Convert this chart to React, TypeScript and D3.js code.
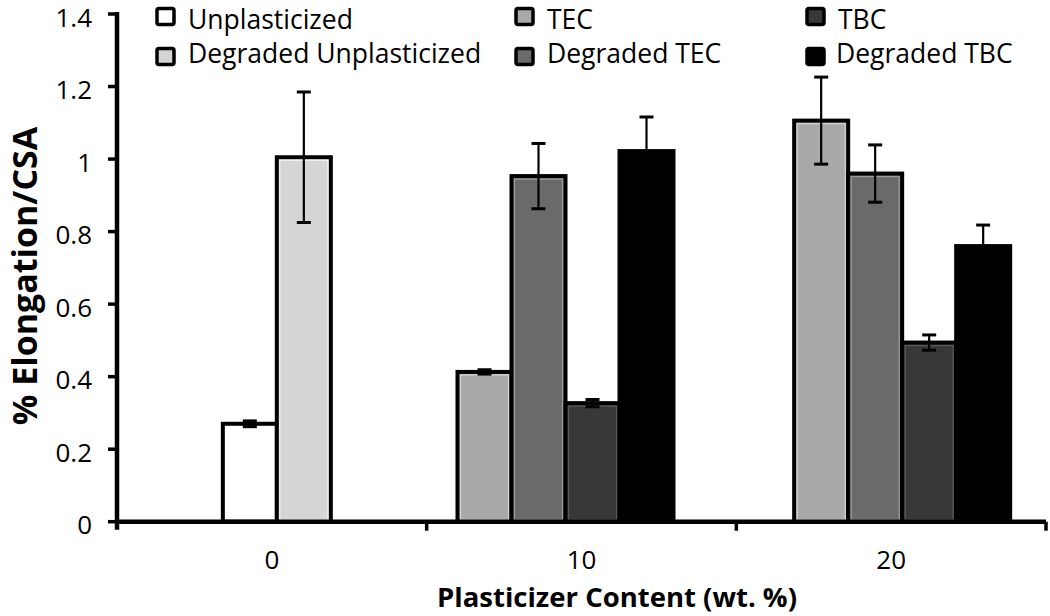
import React from "react";
import * as d3 from "d3";

// ---- data ----
const categories = ["0", "10", "20"];
const seriesNames = [
  "Unplasticized",
  "Degraded Unplasticized",
  "TEC",
  "Degraded TEC",
  "TBC",
  "Degraded TBC",
];
const unplasticized = [0.27, null, null];
const degradedUnplasticized = [1.005, null, null];
const tec = [null, 0.413, 1.106];
const degradedTec = [null, 0.953, 0.96];
const tbc = [null, 0.327, 0.494];
const degradedTbc = [null, 1.022, 0.76];

const errUnplasticized = [0.008, null, null];
const errDegradedUnplasticized = [0.18, null, null];
const errTec = [null, 0.006, 0.12];
const errDegradedTec = [null, 0.09, 0.079];
const errTbc = [null, 0.01, 0.021];
const errDegradedTbc = [null, 0.094, 0.058];

const yTicks = [0, 0.2, 0.4, 0.6, 0.8, 1, 1.2, 1.4];

// ---- styles ----
const fills = ["#ffffff", "#d5d5d5", "#a9a9a9", "#6a6a6a", "#383838", "#000000"];
const highlights = [null, "#f2f2f2", "#d4d4d4", "#9c9c9c", "#5a5a5a", null];

const seriesValues = [unplasticized, degradedUnplasticized, tec, degradedTec, tbc, degradedTbc];
const seriesErrors = [
  errUnplasticized,
  errDegradedUnplasticized,
  errTec,
  errDegradedTec,
  errTbc,
  errDegradedTbc,
];

const W = 1050;
const H = 616;
const plot = { left: 117, right: 1046, top: 14, bottom: 521.7 };
const slotW = 54;
const groupShift = [5, -16, 11];
const FONT = "'Open Sans', 'Liberation Sans', sans-serif";

export default function App() {
  const x = d3.scaleBand<string>().domain(categories).range([plot.left, plot.right]).padding(0);
  const y = d3.scaleLinear().domain([0, 1.4]).range([plot.bottom, plot.top]);

  const bars: any[] = [];
  categories.forEach((cat, ci) => {
    const present = seriesNames
      .map((s, si) => si)
      .filter((si) => seriesValues[si][ci] != null);
    const inner = d3
      .scaleBand<number>()
      .domain(present)
      .range([-(present.length * slotW) / 2, (present.length * slotW) / 2]);
    present.forEach((si) => {
      const cx = (x(cat) as number) + x.bandwidth() / 2 + groupShift[ci];
      bars.push({
        si,
        ci,
        x0: cx + (inner(si) as number),
        w: inner.bandwidth(),
        v: seriesValues[si][ci] as number,
        e: seriesErrors[si][ci] as number,
      });
    });
  });

  const legendPos = [
    { mx: 157, tx: 188, row: 0 },
    { mx: 157, tx: 188, row: 1 },
    { mx: 516, tx: 547, row: 0 },
    { mx: 516, tx: 547, row: 1 },
    { mx: 807, tx: 838, row: 0 },
    { mx: 807, tx: 836, row: 1 },
  ];

  return (
    <svg
      width={W}
      height={H}
      style={{ position: "absolute", left: 0, top: 0, background: "#fff" }}
      fontFamily={FONT}
    >
      <rect x={0} y={0} width={W} height={H} fill="#fff" />
      {/* bars */}
      {bars.map((b, i) => (
        <g key={"b" + i}>
          <rect
            x={b.x0}
            y={y(b.v)}
            width={b.w}
            height={y(0) - y(b.v)}
            fill={fills[b.si]}
            stroke="#000"
            strokeWidth={4}
          />
          {highlights[b.si] && (
            <rect
              x={b.x0 + 3}
              y={y(b.v) + 3}
              width={b.w - 6}
              height={y(0) - y(b.v) - 5}
              fill="none"
              stroke={highlights[b.si] as string}
              strokeWidth={1.2}
            />
          )}
        </g>
      ))}
      {/* error bars */}
      {bars.map((b, i) => {
        const cx = b.x0 + b.w / 2;
        return (
          <g key={"e" + i} stroke="#000">
            <line x1={cx} x2={cx} y1={y(b.v + b.e)} y2={y(b.v - b.e)} strokeWidth={2.2} />
            <line x1={cx - 7} x2={cx + 7} y1={y(b.v + b.e)} y2={y(b.v + b.e)} strokeWidth={3} />
            <line x1={cx - 7} x2={cx + 7} y1={y(b.v - b.e)} y2={y(b.v - b.e)} strokeWidth={3} />
          </g>
        );
      })}
      {/* y axis */}
      <line x1={plot.left} x2={plot.left} y1={plot.top - 2} y2={plot.bottom + 8} stroke="#000" strokeWidth={4.5} />
      {yTicks.map((t) => (
        <g key={"yt" + t}>
          <line x1={plot.left - 9} x2={plot.left} y1={y(t)} y2={y(t)} stroke="#000" strokeWidth={3.5} />
          <text x={92} y={y(t) + 12.5} textAnchor="end" fontSize={26} fill="#000">
            {String(+t.toFixed(1))}
          </text>
        </g>
      ))}
      {/* x axis */}
      <line x1={plot.left} x2={plot.right} y1={plot.bottom} y2={plot.bottom} stroke="#000" strokeWidth={4.5} />
      {categories.map((c, i) => (
        <line
          key={"xt" + i}
          x1={(x(c) as number) + x.bandwidth()}
          x2={(x(c) as number) + x.bandwidth()}
          y1={plot.bottom}
          y2={plot.bottom + 9}
          stroke="#000"
          strokeWidth={3.5}
        />
      ))}
      {categories.map((c) => (
        <text
          key={"xl" + c}
          x={(x(c) as number) + x.bandwidth() / 2}
          y={569}
          textAnchor="middle"
          fontSize={26}
          fill="#000"
        >
          {c}
        </text>
      ))}
      {/* axis titles */}
      <text x={617} y={607} textAnchor="middle" fontSize={27.5} fontWeight="bold" fill="#000">
        Plasticizer Content (wt. %)
      </text>
      <text
        transform={`translate(36.5, 276) rotate(-90)`}
        textAnchor="middle"
        fontSize={34}
        fontWeight="bold"
        fill="#000"
      >
        % Elongation/CSA
      </text>
      {/* legend */}
      {seriesNames.map((s, si) => {
        const p = legendPos[si];
        const cy = p.row === 0 ? 16.5 : 56.5;
        const by = p.row === 0 ? 28.5 : 63;
        return (
          <g key={"lg" + si}>
            <rect
              x={p.mx}
              y={cy - 8}
              width={17}
              height={16}
              rx={2}
              fill={fills[si]}
              stroke="#000"
              strokeWidth={3.5}
            />
            <text x={p.tx} y={by} fontSize={26.5} fill="#000">
              {s}
            </text>
          </g>
        );
      })}
    </svg>
  );
}
